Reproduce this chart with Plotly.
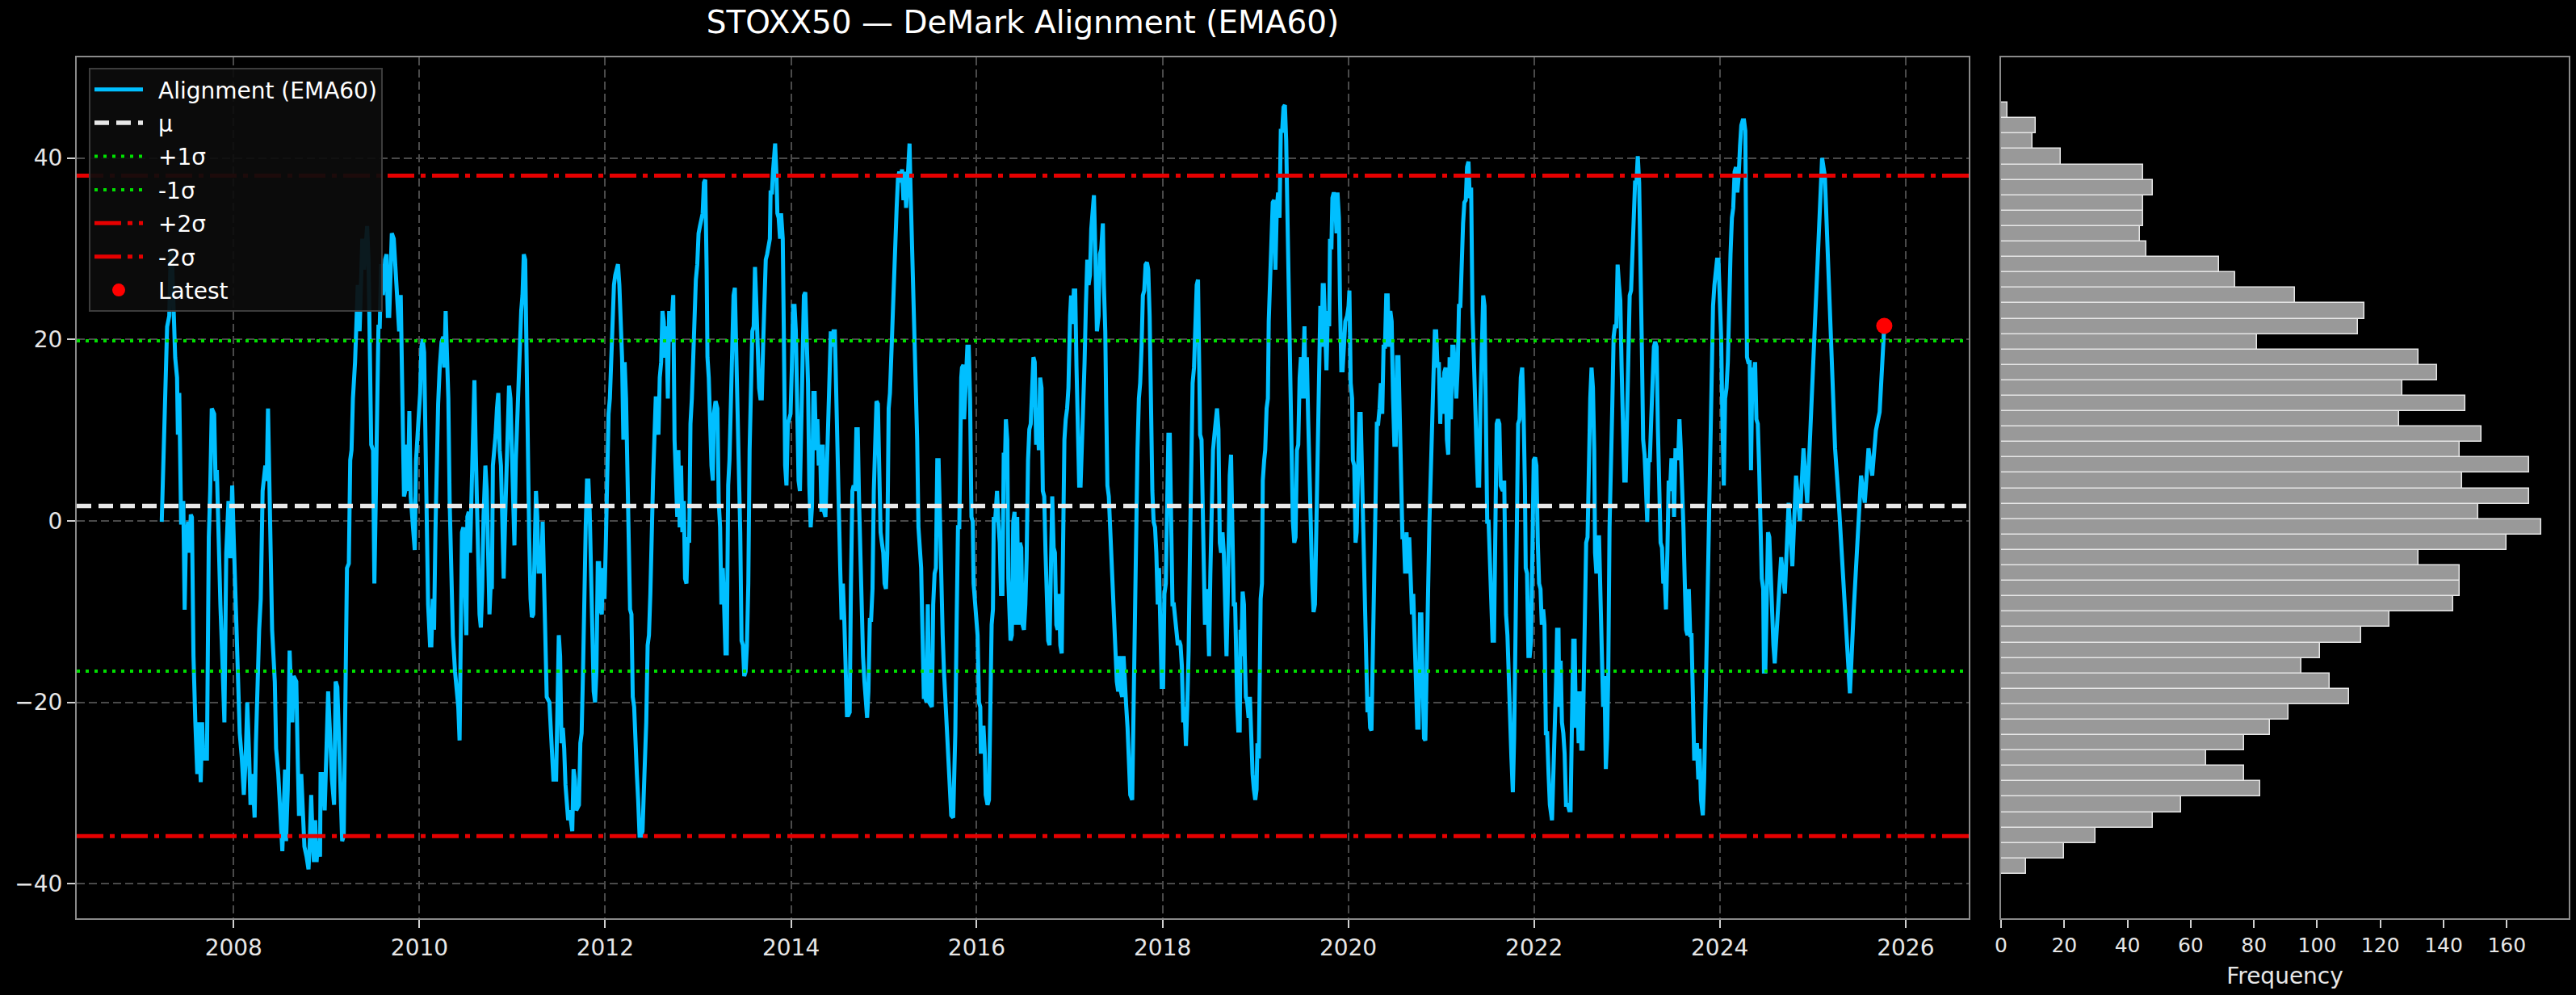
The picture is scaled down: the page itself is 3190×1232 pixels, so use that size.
import pandas as pd
import plotly.graph_objects as go

# ---------------- data ----------------
YEARS = [
2007.226,2007.250,2007.270,2007.284,2007.307,2007.322,2007.334,2007.348,2007.357,2007.371,
2007.391,2007.400,2007.415,2007.423,2007.435,2007.458,2007.473,2007.487,2007.510,2007.525,
2007.539,2007.551,2007.568,2007.588,2007.609,2007.626,2007.646,2007.661,2007.675,2007.713,
2007.719,2007.733,2007.748,2007.765,2007.791,2007.806,2007.820,2007.835,2007.858,2007.878,
2007.901,2007.921,2007.945,2007.965,2007.985,2008.003,2008.023,2008.043,2008.066,2008.089,
2008.110,2008.130,2008.147,2008.168,2008.182,2008.202,2008.226,2008.240,2008.254,2008.275,
2008.292,2008.312,2008.341,2008.356,2008.370,2008.385,2008.399,2008.414,2008.443,2008.457,
2008.480,2008.501,2008.524,2008.538,2008.553,2008.564,2008.582,2008.602,2008.616,2008.631,
2008.645,2008.674,2008.689,2008.703,2008.727,2008.747,2008.761,2008.784,2008.805,2008.819,
2008.834,2008.848,2008.863,2008.877,2008.892,2008.906,2008.929,2008.935,2008.958,2008.979,
2008.999,2009.016,2009.036,2009.057,2009.080,2009.097,2009.115,2009.138,2009.152,2009.167,
2009.184,2009.201,2009.219,2009.239,2009.254,2009.268,2009.283,2009.306,2009.317,2009.335,
2009.355,2009.370,2009.384,2009.404,2009.422,2009.436,2009.451,2009.462,2009.480,2009.500,
2009.514,2009.529,2009.543,2009.558,2009.572,2009.587,2009.607,2009.630,2009.645,2009.659,
2009.674,2009.688,2009.702,2009.723,
2009.760,2009.781,2009.798,2009.810,2009.818,2009.833,2009.847,2009.862,2009.876,2009.891,
2009.905,2009.934,2009.949,2009.963,2009.992,2010.007,2010.021,2010.036,2010.050,2010.065,
2010.079,2010.093,2010.114,2010.128,2010.143,2010.157,2010.172,2010.186,2010.201,2010.218,
2010.238,2010.256,2010.267,2010.282,2010.296,2010.311,2010.325,2010.340,2010.360,2010.383,
2010.400,2010.418,2010.432,2010.444,2010.458,2010.473,2010.487,2010.505,2010.516,2010.531,
2010.545,2010.560,2010.574,2010.592,2010.606,2010.621,2010.635,2010.647,2010.661,2010.676,
2010.690,2010.710,2010.725,2010.736,2010.754,2010.768,2010.780,2010.791,2010.806,2010.820,
2010.835,2010.849,2010.864,2010.878,2010.893,2010.907,2010.922,2010.936,2010.951,2010.965,
2010.980,2010.994,2011.009,2011.023,2011.038,2011.052,2011.067,2011.081,2011.096,2011.110,
2011.124,2011.139,2011.153,2011.168,2011.182,2011.197,2011.211,2011.226,2011.240,2011.255,
2011.269,2011.284,2011.298,2011.313,2011.327,2011.342,2011.356,2011.371,2011.400,2011.414,
2011.429,2011.443,2011.472,2011.486,2011.501,2011.515,2011.530,2011.544,2011.559,2011.573,
2011.588,2011.602,2011.617,2011.631,2011.646,2011.660,2011.675,2011.689,2011.718,2011.733,
2011.747,2011.762,2011.776,2011.791,2011.805,2011.820,2011.834,2011.849,2011.863,2011.877,
2011.892,2011.906,2011.921,2011.935,2011.950,2011.964,2011.979,2011.993,2012.008,2012.022,
2012.037,2012.051,2012.066,2012.080,2012.095,2012.109,2012.124,2012.138,2012.153,2012.167,
2012.182,2012.196,2012.210,2012.225,2012.239,2012.254,2012.268,2012.283,2012.297,2012.312,
2012.326,2012.341,2012.355,2012.370,2012.387,2012.402,2012.413,2012.428,2012.442,2012.457,
2012.471,2012.486,2012.500,2012.515,2012.529,2012.544,2012.558,2012.573,2012.587,2012.602,
2012.616,2012.630,2012.645,2012.659,2012.674,2012.688,2012.703,2012.717,2012.732,2012.746,
2012.761,2012.775,
2012.787,2012.801,2012.816,2012.830,2012.845,2012.859,2012.874,2012.888,2012.903,2012.917,
2012.932,2012.946,2012.961,2012.975,2012.990,2013.004,2013.019,2013.033,2013.048,2013.062,
2013.076,2013.091,2013.100,2013.114,2013.129,2013.143,2013.158,2013.169,2013.187,2013.207,
2013.221,2013.236,2013.250,2013.265,2013.279,2013.294,2013.308,2013.314,2013.323,2013.337,
2013.352,2013.366,2013.381,2013.395,2013.410,2013.424,2013.438,2013.453,2013.467,2013.482,
2013.496,2013.511,2013.525,2013.540,2013.554,2013.569,2013.583,2013.598,2013.612,2013.627,
2013.641,2013.656,2013.670,2013.685,2013.699,2013.714,2013.728,2013.743,2013.757,2013.772,
2013.780,2013.795,2013.806,2013.818,2013.829,2013.844,2013.853,2013.867,2013.882,2013.893,
2013.911,2013.922,2013.937,2013.951,2013.966,2013.980,2013.995,2014.009,2014.023,2014.038,
2014.052,2014.067,2014.081,2014.096,2014.110,2014.125,2014.139,2014.154,2014.168,2014.183,
2014.197,2014.212,2014.226,2014.241,2014.255,2014.270,2014.284,2014.299,2014.313,2014.328,
2014.342,2014.357,2014.371,2014.385,2014.400,2014.414,2014.429,2014.443,2014.458,2014.472,
2014.487,2014.501,2014.516,2014.530,2014.545,2014.559,2014.574,2014.588,2014.603,2014.617,
2014.632,2014.646,2014.661,2014.675,2014.690,2014.704,2014.719,2014.733,2014.747,2014.762,
2014.776,2014.791,2014.805,2014.820,2014.834,2014.849,2014.863,2014.878,2014.892,2014.907,
2014.921,2014.936,2014.950,2014.965,2014.979,2014.994,2015.008,2015.023,2015.037,2015.052,
2015.066,2015.081,2015.095,2015.109,2015.124,2015.138,2015.153,2015.167,2015.182,2015.196,
2015.211,2015.225,2015.240,2015.254,2015.269,2015.277,2015.286,2015.301,2015.315,2015.330,
2015.344,2015.359,2015.373,2015.388,2015.402,2015.416,2015.431,2015.445,2015.460,2015.474,
2015.489,2015.503,2015.518,2015.532,2015.547,2015.561,2015.576,2015.590,2015.605,2015.619,
2015.634,2015.648,2015.663,2015.677,2015.692,2015.706,2015.726,
2015.747,2015.761,2015.770,2015.784,2015.799,2015.813,2015.822,2015.834,2015.842,2015.857,
2015.865,2015.877,2015.886,2015.900,2015.915,2015.929,2015.944,2015.958,2015.967,2015.981,
2015.996,2016.010,2016.025,2016.039,2016.045,2016.059,2016.074,2016.088,2016.097,2016.117,
2016.132,2016.146,2016.161,2016.175,2016.184,2016.198,2016.219,2016.233,2016.248,2016.262,
2016.277,2016.291,2016.306,2016.314,2016.329,2016.340,2016.364,2016.378,2016.393,2016.407,
2016.421,2016.436,2016.450,2016.465,2016.479,2016.494,2016.508,2016.523,2016.537,2016.552,
2016.566,2016.581,2016.595,2016.610,2016.624,2016.639,2016.653,2016.668,2016.682,2016.697,
2016.711,2016.726,2016.740,2016.755,2016.769,2016.783,2016.798,2016.812,2016.827,2016.841,
2016.856,2016.870,2016.885,2016.899,2016.914,2016.928,2016.943,2016.957,2016.972,2016.986,
2016.995,2017.004,2017.015,2017.030,2017.044,2017.059,2017.073,2017.088,2017.102,2017.117,
2017.131,2017.145,2017.160,2017.174,2017.189,2017.203,2017.218,2017.232,2017.247,2017.261,
2017.270,2017.282,2017.293,2017.311,2017.325,2017.339,2017.357,2017.368,2017.383,2017.392,
2017.406,2017.421,2017.435,2017.450,2017.464,2017.478,2017.493,2017.507,2017.522,2017.536,
2017.551,2017.565,2017.580,2017.594,2017.609,2017.623,2017.638,2017.652,2017.673,2017.687,
2017.701,2017.716,2017.730,2017.745,2017.759,2017.774,2017.788,2017.803,2017.817,2017.832,
2017.846,2017.861,2017.875,2017.890,2017.904,2017.919,2017.933,2017.948,2017.962,2017.977,
2017.991,2018.006,2018.020,2018.035,2018.049,2018.063,2018.078,2018.092,2018.107,2018.121,
2018.136,2018.150,2018.165,2018.179,2018.194,2018.208,2018.223,2018.237,2018.252,2018.266,
2018.281,2018.295,2018.310,2018.324,2018.339,2018.353,2018.368,2018.382,2018.391,2018.405,
2018.420,2018.428,2018.443,2018.457,2018.472,2018.486,2018.501,2018.515,2018.530,2018.544,
2018.559,2018.573,2018.587,2018.602,2018.617,2018.631,2018.646,2018.660,2018.675,2018.689,
2018.701,2018.709,2018.724,2018.738,2018.747,2018.759,2018.767,2018.782,2018.790,2018.805,
2018.816,2018.831,2018.840,2018.848,2018.863,2018.877,2018.886,2018.898,2018.912,2018.927,
2018.941,2018.950,2018.961,2018.970,2018.984,2018.999,2019.013,2019.022,2019.037,2019.051,
2019.057,2019.071,2019.080,2019.095,2019.106,2019.121,2019.135,2019.144,2019.158,2019.173,
2019.187,2019.202,2019.216,2019.231,2019.245,2019.260,2019.274,2019.289,2019.303,2019.318,
2019.332,2019.346,2019.361,2019.375,2019.390,2019.404,2019.419,2019.433,2019.448,2019.462,
2019.477,2019.491,2019.506,2019.520,2019.529,2019.540,2019.555,2019.569,2019.584,2019.598,
2019.613,2019.627,2019.642,2019.656,2019.671,2019.685,2019.700,2019.714,2019.726,2019.737,
2019.752,2019.766,2019.781,2019.795,2019.804,2019.819,2019.830,2019.845,2019.859,2019.874,
2019.885,2019.900,2019.911,2019.926,2019.940,2019.955,2019.969,2019.989,2020.004,2020.013,
2020.027,2020.042,2020.050,2020.065,2020.079,2020.091,2020.108,2020.120,2020.134,2020.149,
2020.163,2020.178,2020.192,2020.207,2020.221,2020.236,2020.250,2020.265,2020.279,2020.294,
2020.308,2020.322,2020.337,2020.351,2020.366,2020.380,2020.395,2020.409,2020.424,2020.438,
2020.453,2020.467,2020.482,2020.496,2020.511,2020.525,2020.540,2020.554,2020.569,2020.583,
2020.598,2020.612,2020.627,2020.641,2020.656,2020.670,2020.685,2020.699,2020.713,2020.728,
2020.742,2020.757,2020.771,2020.786,2020.800,2020.815,2020.829,2020.844,2020.858,2020.873,
2020.887,2020.902,2020.916,2020.931,2020.945,2020.960,2020.974,2020.989,2021.003,2021.018,
2021.032,2021.047,2021.061,2021.075,2021.090,2021.104,2021.119,2021.133,2021.148,2021.162,
2021.177,2021.191,2021.206,2021.220,2021.235,2021.249,2021.264,2021.278,2021.293,2021.307,
2021.322,2021.336,2021.350,2021.365,2021.379,2021.394,2021.408,2021.423,2021.437,2021.452,
2021.466,2021.481,2021.495,2021.510,2021.524,2021.539,2021.553,2021.568,2021.582,2021.597,
2021.611,2021.626,2021.640,
2021.663,2021.678,2021.684,2021.698,2021.713,2021.727,2021.742,2021.756,2021.771,2021.785,
2021.799,2021.814,2021.828,2021.843,2021.857,2021.872,2021.886,2021.901,2021.910,2021.924,
2021.939,2021.953,2021.967,2021.982,2021.996,2022.011,2022.025,2022.040,2022.054,2022.069,
2022.083,2022.098,2022.112,2022.127,2022.141,2022.156,2022.170,2022.193,2022.208,2022.222,
2022.237,2022.248,2022.263,2022.272,2022.286,2022.300,2022.315,2022.329,2022.344,2022.364,
2022.379,2022.393,2022.408,2022.422,2022.437,2022.451,2022.466,2022.480,2022.495,2022.509,
2022.523,2022.538,2022.552,2022.561,2022.576,2022.590,2022.605,2022.619,2022.634,2022.648,
2022.657,2022.671,2022.686,2022.700,2022.715,2022.729,2022.744,2022.758,2022.773,2022.787,
2022.799,2022.813,2022.828,2022.842,2022.857,2022.871,2022.886,2022.900,2022.915,2022.929,
2022.943,2022.958,2022.972,2022.987,2023.001,2023.016,2023.030,2023.045,2023.059,2023.074,
2023.088,2023.103,2023.117,2023.132,2023.146,2023.161,2023.175,2023.190,2023.204,2023.219,
2023.233,2023.247,2023.262,2023.276,2023.291,2023.305,2023.320,2023.334,2023.349,2023.363,
2023.378,2023.392,2023.407,2023.421,2023.436,2023.450,2023.465,2023.479,2023.494,2023.508,
2023.523,2023.537,2023.552,2023.566,2023.581,2023.595,2023.609,2023.624,2023.638,2023.653,
2023.667,2023.682,2023.696,2023.711,2023.725,2023.740,2023.754,2023.769,2023.783,2023.798,
2023.818,2023.832,2023.844,2023.856,2023.870,2023.885,2023.899,2023.914,2023.928,2023.943,
2023.957,2023.971,2023.986,2024.000,2024.015,2024.029,2024.044,2024.058,2024.073,2024.087,
2024.102,2024.116,2024.131,2024.145,2024.160,2024.174,2024.189,2024.203,2024.218,2024.232,
2024.247,2024.261,2024.275,2024.284,2024.293,2024.307,2024.322,2024.336,2024.351,2024.365,
2024.380,2024.394,2024.409,2024.423,2024.438,2024.452,2024.467,2024.475,2024.490,2024.504,
2024.519,2024.533,2024.548,2024.562,2024.577,2024.591,
2024.620,2024.660,2024.700,2024.740,2024.780,2024.820,2024.860,2024.900,2024.940,2024.980,
2025.020,2025.060,2025.100,2025.130,2025.160,2025.200,2025.240,2025.280,2025.320,2025.360,
2025.400,2025.440,2025.480,2025.520,2025.560,2025.600,2025.640,2025.680,2025.720,2025.750,
2025.770,
]

VALUES = [
-0.1,8.4,18.0,21.4,22.6,29.4,29.7,24.9,20.3,18.0,
15.8,9.5,14.1,3.3,-0.4,2.2,-9.8,-1.8,-0.1,-3.5,
0.7,0.4,-14.9,-22.2,-27.9,-22.2,-28.8,-22.2,-26.2,-26.2,
-14.9,-1.8,3.3,12.4,11.8,4.4,5.6,-1.8,-9.2,-14.9,
-22.2,-3.5,2.2,-4.1,3.9,-2.4,-8.1,-14.9,-23.4,-26.2,
-30.2,-26.2,-20.0,-26.2,-31.3,-27.9,-32.7,-24.5,-17.7,-12.0,
-8.6,3.3,6.1,4.4,12.4,4.4,-3.5,-12.0,-17.7,-25.1,
-27.9,-31.9,-36.4,-31.9,-27.4,-35.3,-29.6,-14.3,-19.4,-22.2,
-17.1,-17.7,-26.2,-32.5,-27.9,-32.5,-35.9,-37.0,-38.4,-35.3,
-30.2,-34.7,-37.6,-33.0,-37.6,-35.3,-37.0,-27.9,-27.9,-31.9,
-26.2,-18.8,-23.4,-28.5,-31.3,-17.7,-18.3,-26.2,-27.4,-35.3,
-34.7,-17.7,-5.2,-4.7,6.7,7.8,13.5,17.5,22.0,26.0,
20.9,27.1,31.1,27.7,31.7,32.5,28.8,20.9,8.4,7.8,
-6.9,2.2,14.1,21.4,21.4,28.3,24.9,28.8,29.4,22.6,
22.6,28.8,31.7,31.1,
24.9,20.9,24.9,18.0,11.8,2.7,3.3,8.4,3.3,12.1,
2.7,-2.4,-3.2,6.7,10.7,14.1,19.2,20.0,18.6,7.8,
-3.5,-9.2,-13.7,-13.7,-8.6,-12.0,-1.25,8.4,12.9,16.9,
19.75,20.3,16.9,23.15,19.2,13.5,2.2,-5.8,-12.6,-16.6,
-18.8,-20.5,-24.2,-9.2,-1.25,-0.7,-6.35,-12.6,0.45,1.0,
-3.5,3.3,8.95,15.5,7.8,0.45,-9.2,-10.3,-11.75,-7.5,
0.45,6.1,3.3,-2.4,-10.3,-6.9,-7.5,6.1,7.8,9.5,
12.4,14.1,7.8,6.1,-0.1,-6.35,-0.1,4.45,9.5,14.9,
13.5,6.7,3.9,-2.7,6.7,11.2,15.8,18.0,23.15,24.9,
29.4,28.8,15.8,10.7,-1.8,-8.6,-10.6,-10.3,-4.1,3.3,
0.45,-5.8,-3.5,-5.8,-0.1,-5.8,-13.7,-19.4,-20.0,-22.8,
-25.1,-28.5,-28.5,-17.7,-12.6,-14.9,-24.5,-22.8,-25.1,-29.1,
-31.9,-33.0,-31.9,-33.6,-34.2,-27.35,-28.5,-31.9,-31.3,-24.5,
-23.4,-16.6,-6.9,-0.7,4.45,4.45,1.0,-6.9,-14.9,-18.8,
-20.0,-16.6,-4.65,-4.65,-9.75,-10.3,-5.2,-8.6,-2.4,6.1,
11.8,13.5,18.6,23.7,26.0,27.1,27.7,28.3,26.0,21.45,
18.0,8.95,17.5,13.5,4.45,-3.5,-9.75,-10.3,-19.4,-20.5,
-25.65,-27.9,-30.75,-34.7,-34.7,-34.2,-30.75,-27.35,-22.2,-13.7,
-12.6,-8.05,1.0,4.45,8.95,13.5,13.5,9.5,15.8,17.5,
23.15,22.0,18.0,21.45,13.5,23.15,19.75,23.7,24.9,8.95,
5.6,0.45,
7.8,-0.7,6.1,-1.25,2.2,-6.35,-6.9,-1.8,-2.4,10.7,
13.5,18.05,24.85,26.6,28.25,31.7,32.5,33.4,33.9,37.3,
37.6,27.7,18.05,15.8,8.4,6.1,4.45,11.8,13.2,12.4,
2.2,-0.7,-9.2,-5.2,-9.2,-14.6,-14.6,-5.2,3.9,6.7,
12.4,17.5,24.85,25.7,19.2,11.2,6.7,-1.25,-13.2,-13.7,
-17.1,-16.6,-13.7,-6.9,7.8,15.2,20.9,21.45,28.0,23.7,
19.2,14.65,13.5,13.5,19.2,26.0,28.8,29.4,30.5,31.1,
36.2,36.2,38.5,40.2,41.6,37.9,33.9,33.4,31.1,33.9,
31.1,21.45,6.1,3.9,10.7,11.2,11.8,16.9,23.7,23.7,
20.9,12.4,4.45,3.3,11.2,18.6,24.85,25.2,21.45,15.2,
3.9,-0.7,1.6,14.1,14.1,7.8,11.2,6.1,8.4,1.0,
8.4,1.0,0.45,6.1,11.2,18.6,20.9,19.2,20.9,20.9,
13.5,8.4,-2.4,-5.2,-10.9,-6.9,-10.9,-18.8,-21.4,-21.4,
-21.1,-6.9,3.3,3.9,3.3,10.1,10.1,2.2,-5.2,-12.6,
-14.9,-17.7,-19.4,-21.7,-18.8,-10.9,-10.9,-7.5,3.3,10.7,
13.2,12.9,2.2,-1.25,-2.4,-3.5,-6.9,-7.5,-3.5,12.4,
14.1,18.6,24.3,25.4,31.7,34.5,37.9,38.5,37.3,38.75,
35.35,38.5,34.5,37.3,40.7,41.6,37.3,31.7,28.25,19.2,
13.5,8.95,-0.7,-2.4,-5.2,-12.0,-19.4,-19.4,-20.0,-9.2,
-20.0,-20.25,-20.5,-9.2,-5.8,-5.2,6.7,6.7,0.45,-9.2,
-12.6,-16.6,-20.0,-21.7,-26.2,-29.6,-32.45,
-32.7,-26.2,-23.4,-11.45,-0.7,-0.7,8.95,15.8,16.9,17.2,
11.2,14.1,15.8,19.2,19.2,13.5,0.45,-0.1,-6.9,-9.2,
-10.9,-12.6,-20.0,-20.5,-25.65,-22.8,-22.8,-25.65,-30.2,-31.3,
-30.75,-22.2,-11.45,-9.75,0.45,-0.1,3.3,-0.1,-2.4,-8.05,
-8.05,7.3,7.3,11.2,8.95,-6.35,-13.2,-12.6,-0.1,1.0,
-11.45,0.45,-11.45,-2.4,-2.95,-11.45,-12.0,-9.2,-4.1,6.7,
10.1,10.7,15.2,18.05,17.5,8.4,12.4,7.8,15.8,14.65,
3.3,2.7,-3.5,-9.2,-13.2,-13.7,-6.35,2.7,-2.95,-3.5,
-11.45,-12.0,-8.05,-13.7,-14.6,-0.7,8.95,11.2,12.4,14.65,
20.3,22.6,24.85,21.7,25.4,25.4,16.9,10.1,3.9,3.9,
7.8,14.1,17.5,23.7,28.8,26.0,27.1,32.2,35.1,35.9,
32.2,24.85,20.9,22.6,29.4,29.95,32.8,26.0,20.9,13.5,
3.9,2.7,-0.7,-3.5,-5.2,-10.3,-14.3,-17.7,-18.8,-14.9,
-18.8,-19.4,-14.9,-18.8,-20.5,-22.8,-27.9,-30.2,-30.75,-20.5,
-9.2,-2.4,7.8,13.5,15.2,19.2,24.85,25.4,28.25,28.5,
27.7,22.6,8.95,3.3,-0.1,-0.7,-3.5,-9.2,-5.2,-13.2,
-18.3,-18.3,-8.05,-6.9,2.2,9.5,9.5,-0.7,-9.2,-9.2,
-10.9,-11.45,-13.7,-13.2,-13.7,-16.0,-22.2,-20.5,-24.8,-20.5,
-14.3,-3.5,7.8,15.2,16.9,21.45,26.0,26.6,21.45,9.5,
8.95,0.45,-4.1,-11.45,-7.5,-9.2,-14.9,-5.8,1.6,7.8,
9.5,11.2,12.4,10.1,-2.4,-3.5,-1.25,-3.5,-12.6,-14.9,
-9.2,-1.8,5.0,7.3,2.2,-3.5,-9.2,-9.2,-16.6,-20.5,
-23.1,-23.1,-12.0,-14.9,-7.8,-9.2,-14.9,-19.4,-20.0,-21.7,
-19.4,-22.2,-26.2,-27.9,-29.6,-30.75,-29.6,-24.5,-26.2,-17.1,
-8.6,-6.9,4.45,6.7,7.8,12.4,13.5,22.0,27.1,28.8,
35.1,35.35,27.7,34.5,36.2,33.4,43.0,43.0,45.6,45.85,
41.9,33.4,24.85,13.5,2.2,-0.1,-2.4,-1.8,7.8,8.4,
15.8,18.05,13.5,18.05,21.45,13.5,18.05,11.2,3.3,-1.25,
-6.9,-10.05,-9.2,-1.25,6.7,18.6,23.7,19.2,26.0,26.0,
20.3,16.6,23.15,21.45,31.1,29.95,35.6,36.2,35.6,31.7,
36.2,33.4,24.85,16.6,16.6,20.9,22.0,22.6,23.7,25.4,
15.2,13.5,6.7,6.1,-2.4,-1.25,6.7,11.8,11.8,4.45,
-2.4,-9.2,-17.7,-21.1,-19.4,-22.8,-23.1,-12.0,-5.2,2.2,
10.7,10.7,12.4,15.2,11.8,19.2,19.2,24.85,24.85,19.2,
23.15,22.0,13.5,8.4,8.4,18.05,18.05,11.2,2.2,-1.8,
-1.8,-5.8,-1.25,-5.8,-1.8,-6.35,-10.3,-8.05,-14.9,-17.7,
-22.8,-22.8,-10.3,-10.3,-17.7,-23.95,-24.2,-17.7,-8.05,-0.1,
6.7,11.2,15.8,20.9,20.9,16.9,17.5,10.7,15.8,11.8,
16.35,16.9,8.95,7.3,18.05,11.2,19.2,19.2,15.2,13.5,
16.9,23.7,23.7,28.8,32.8,35.1,35.35,39.0,39.6,35.6,
36.75,23.15,18.05,10.1,8.4,3.9,3.9,13.5,18.05,24.85,
23.7,10.1,-0.1,-0.1,-5.8,-9.2,-13.2,-13.2,-3.5,10.7,
11.2,10.7,3.9,
3.3,4.45,-3.5,-10.3,-12.6,-17.7,-23.4,-26.2,-29.9,-23.95,
-13.2,-3.5,10.7,11.2,15.8,16.9,12.4,3.9,-5.2,-5.8,
-14.9,-14.9,-13.2,-3.5,6.7,7.0,6.1,-2.4,-6.9,-7.5,
-11.45,-9.75,-11.45,-23.4,-23.4,-27.9,-31.3,-33.0,-27.9,-25.1,
-17.7,-12.0,-12.0,-20.5,-15.4,-22.2,-23.4,-25.65,-31.3,-31.3,
-31.9,-31.9,-20.5,-13.2,-13.2,-22.8,-18.8,-24.5,-18.8,-25.1,
-25.1,-17.1,-10.9,-2.4,-1.8,7.8,13.5,16.9,14.65,7.8,
-3.5,-5.8,-1.8,-1.8,-9.2,-12.6,-20.5,-17.1,-27.35,-23.95,
-17.1,-0.7,4.45,12.4,20.3,21.45,21.45,28.25,26.0,24.3,
16.9,10.7,4.45,4.45,11.8,17.5,24.85,25.4,29.95,35.6,
37.3,37.3,40.2,37.3,30.5,19.2,8.95,7.3,3.9,-0.1,
6.7,6.7,11.2,15.8,19.2,19.75,19.2,10.1,2.2,-2.4,
-2.95,-6.9,-6.35,-9.75,-3.5,4.45,3.3,6.7,6.7,0.45,
7.8,7.8,6.7,11.2,7.8,4.45,-0.7,-6.9,-12.0,-12.6,
-7.5,-12.6,-12.6,-19.4,-26.2,-26.2,-24.5,-28.5,-25.1,-30.75,
-32.45,-28.5,-22.2,-14.3,-5.2,1.0,6.7,19.75,23.7,26.0,
27.1,28.8,28.8,24.3,20.3,11.2,3.9,13.5,14.65,17.5,
24.85,29.4,33.4,34.5,38.5,39.0,36.2,37.9,41.3,43.6,
44.15,44.15,43.0,30.5,18.05,17.5,17.5,5.6,16.9,15.8,
17.5,11.2,10.7,6.1,-1.25,-6.35,-7.5,-16.6,-16.6,-6.9,
-1.25,-1.8,-6.35,-11.45,-13.7,-15.7,
-10.0,-4.0,-8.0,2.0,-5.0,5.0,0.0,8.0,2.0,12.0,
20.0,30.0,40.0,38.0,30.0,18.0,8.0,2.0,-5.0,-12.0,
-19.0,-10.0,-2.0,5.0,2.0,8.0,5.0,10.0,12.0,18.0,
21.5,
]

MU = 1.65
SIGMA = 18.2

# histogram counts, bins ascending from HIST_LOW in steps of HIST_BIN
HIST_COUNTS = [8, 20, 30, 48, 57, 82, 77, 65, 77, 85,
               91, 110, 104, 95, 101, 114, 123, 143, 145, 145,
               132, 160, 171, 151, 167, 146, 167, 145, 152, 126,
               147, 127, 138, 132, 81, 113, 115, 93, 74, 69,
               46, 44, 45, 45, 48, 45, 19, 10, 11, 2]
HIST_LOW = -38.9
HIST_BIN = 1.7

X_RANGE_YEARS = [2006.31, 2026.68]
Y_RANGE = [-43.8, 51.1]
FREQ_RANGE = [0, 179.6]
Y_TICKS = [-40, -20, 0, 20, 40]
FREQ_TICKS = [0, 20, 40, 60, 80, 100, 120, 140, 160]


def to_ts(y):
    yr = int(y)
    a = pd.Timestamp(year=yr, month=1, day=1)
    b = pd.Timestamp(year=yr + 1, month=1, day=1)
    return a + (b - a) * (y - yr)


dates = [to_ts(v) for v in YEARS]
centers = [HIST_LOW + HIST_BIN * (i + 0.5) for i in range(len(HIST_COUNTS))]

W, H = 3190, 1232
main_x = [95 / W, 2438 / W]
hist_x = [2478 / W, 3181 / W]
dom_y = [1 - 1137 / H, 1 - 71 / H]

BLUE = "#00bfff"
WHITE_L = "#e8e8e8"
GREEN = "#00e000"
RED = "#e60000"
MU_DASH = "18px,9px"
DOT = "4px,7px"
DASHDOT = "33px,8px,6px,8px"
FONT = "DejaVu Sans"
PAD = "\u2002"  # small gap between legend symbol and label

fig = go.Figure()

fig.add_trace(go.Scatter(x=dates, y=VALUES, mode="lines", name=PAD + "Alignment (EMA60)",
                         line=dict(color=BLUE, width=5), xaxis="x", yaxis="y",
                         legendgroup="g0"))

levels = [
    ("μ", MU, WHITE_L, MU_DASH, 5.5),
    ("+1σ", MU + SIGMA, GREEN, DOT, 4),
    ("-1σ", MU - SIGMA, GREEN, DOT, 4),
    ("+2σ", MU + 2 * SIGMA, RED, DASHDOT, 5),
    ("-2σ", MU - 2 * SIGMA, RED, DASHDOT, 5),
]
for i, (name, val, col, dash, w) in enumerate(levels):
    fig.add_shape(type="line", xref="x domain", x0=0, x1=1, yref="y", y0=val, y1=val,
                  line=dict(color=col, width=w, dash=dash), layer="above")
    fig.add_trace(go.Scatter(x=[None], y=[None], mode="lines", name=PAD + name,
                             line=dict(color=col, width=w, dash=dash), xaxis="x", yaxis="y",
                             legendgroup=f"g{i + 1}"))

fig.add_trace(go.Scatter(x=[dates[-1]], y=[VALUES[-1]], mode="markers", name=PAD + "Latest",
                         marker=dict(color="#ff0000", size=20), xaxis="x", yaxis="y",
                         legendgroup="g9"))

fig.add_trace(go.Bar(x=HIST_COUNTS, y=centers, orientation="h", width=HIST_BIN,
                     marker=dict(color="#999999", line=dict(color="#e6e6e6", width=1.5)),
                     xaxis="x2", yaxis="y2", showlegend=False))

axis_common = dict(showline=True, linecolor="#8a8a8a", linewidth=2, mirror=True,
                   zeroline=False, ticks="outside", ticklen=10, tickwidth=2,
                   tickcolor="#d0d0d0", automargin=False)

fig.update_layout(
    width=W, height=H,
    margin=dict(l=0, r=0, t=0, b=0, autoexpand=False),
    paper_bgcolor="black", plot_bgcolor="black",
    font=dict(family=FONT, color="#e6e6e6", size=28),
    bargap=0,
    title=dict(text="STOXX50 — DeMark Alignment (EMA60)", x=1266.5 / W, xanchor="center",
               y=1 - 27 / H, yanchor="middle", font=dict(size=39, color="white", family=FONT)),
    xaxis=dict(domain=main_x, anchor="y", type="date",
               range=[to_ts(X_RANGE_YEARS[0]), to_ts(X_RANGE_YEARS[1])],
               tick0="2008-01-01", dtick="M24", tickformat="%Y",
               showgrid=True, gridcolor="#4a4a4a", gridwidth=2, griddash="10px,5px",
               tickfont=dict(size=28, color="#e6e6e6"), **axis_common),
    yaxis=dict(domain=dom_y, anchor="x", range=Y_RANGE, tickvals=Y_TICKS,
               ticktext=[("−" + str(-t)) if t < 0 else str(t) for t in Y_TICKS],
               showgrid=True, gridcolor="#4a4a4a", gridwidth=2, griddash="10px,5px",
               tickfont=dict(size=28, color="#e6e6e6"), **axis_common),
    xaxis2=dict(domain=hist_x, anchor="y2", range=FREQ_RANGE, tickvals=FREQ_TICKS,
                showgrid=False, tickfont=dict(size=25, color="#e6e6e6"),
                title=dict(text="Frequency", font=dict(size=28, color="#e6e6e6"), standoff=14),
                **axis_common),
    yaxis2=dict(domain=dom_y, anchor="x2", range=Y_RANGE, matches="y",
                showticklabels=False, showgrid=False, showline=True, linecolor="#8a8a8a",
                linewidth=2, mirror=True, zeroline=False, ticks="", automargin=False),
    legend=dict(x=110 / W, y=1 - 84 / H, xanchor="left", yanchor="top",
                bgcolor="rgba(12,12,12,0.92)", bordercolor="#3c3c3c", borderwidth=2,
                font=dict(size=28, color="white", family=FONT), itemwidth=60,
                traceorder="grouped", tracegroupgap=2),
)

fig.write_html("out.html", config={"displayModeBar": False},
               post_script="document.body.style.margin='0';document.body.style.overflow='hidden';")
